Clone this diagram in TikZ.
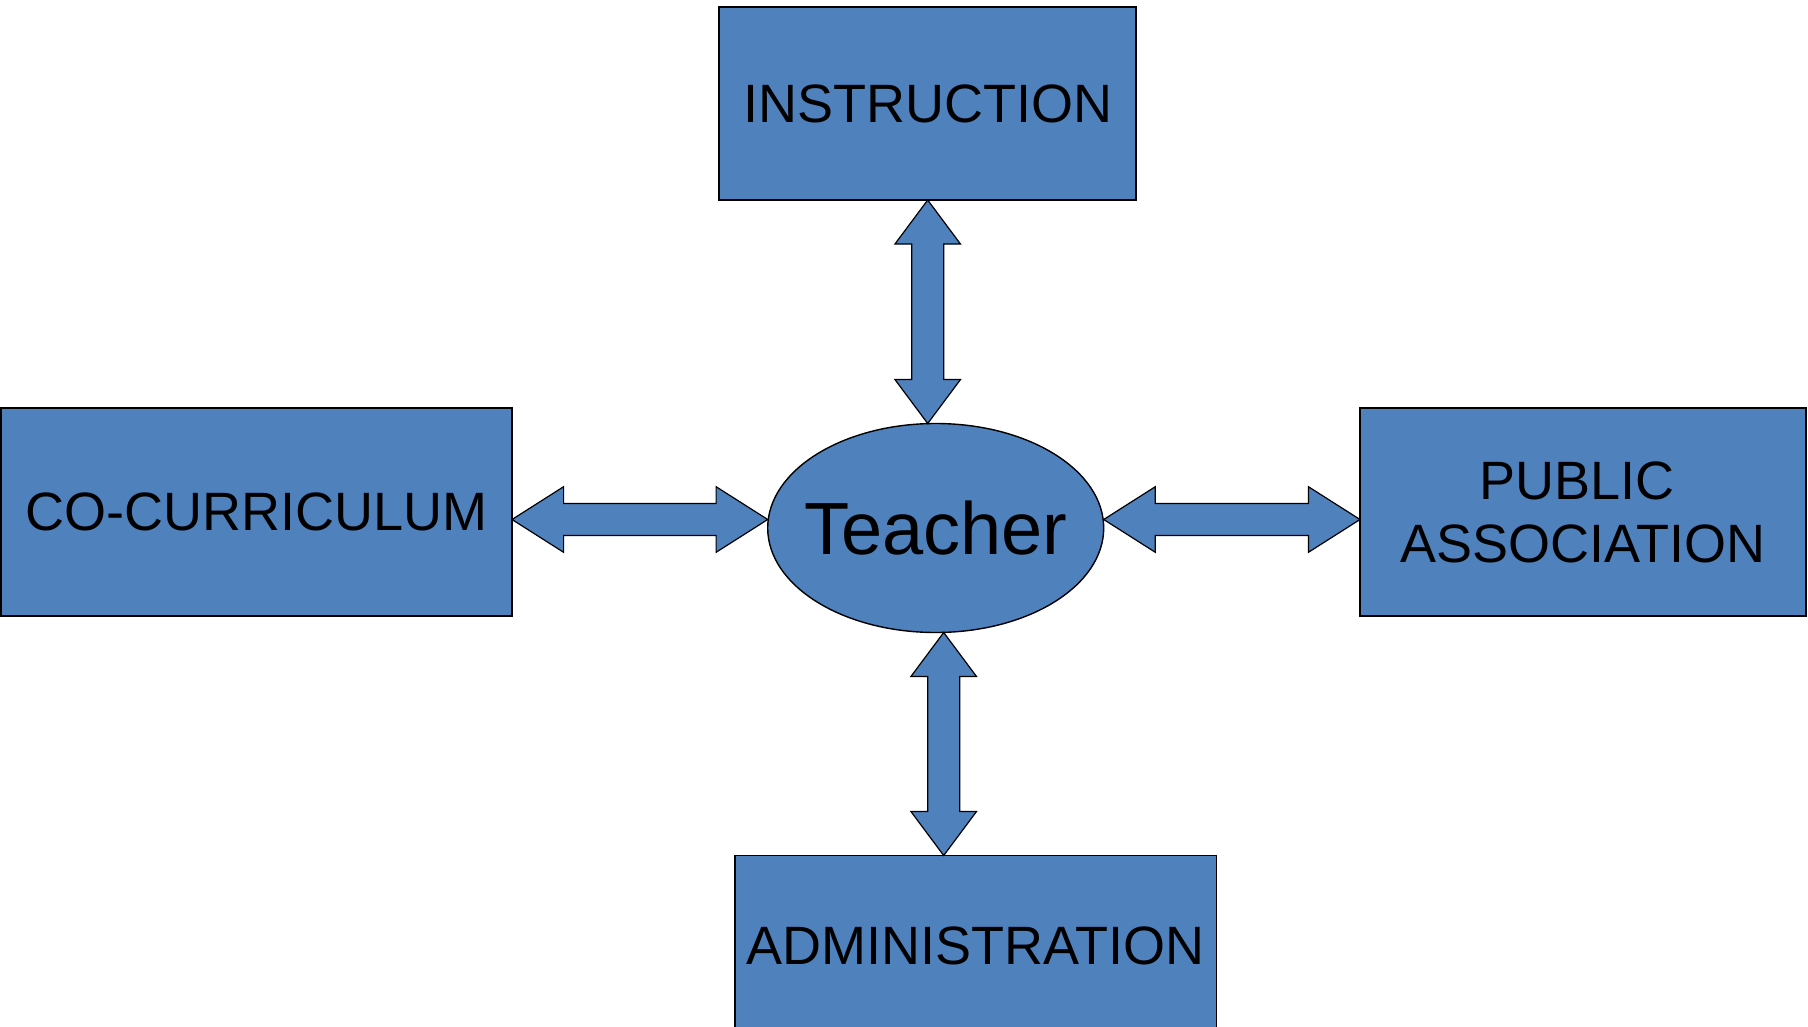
\documentclass[tikz,border=0pt]{standalone}
\usepackage{fontspec}
\setmainfont{Liberation Sans}
\usetikzlibrary{calc,shapes.geometric}
\definecolor{boxblue}{RGB}{79,129,189}
\tikzset{
  boxnode/.style={draw=black, line width=0.9pt, fill=boxblue, rectangle, inner sep=0pt, outer sep=0pt, align=center, font=\fontsize{27}{31.5}\selectfont},
  ellnode/.style={draw=black, line width=0.7pt, fill=boxblue, ellipse, inner sep=0pt, outer sep=0pt, minimum width=168pt, minimum height=104.5pt, font=\fontsize{37}{40}\selectfont},
  darrow/.style={draw=black, line width=0.6pt, fill=boxblue, line join=miter}
}
\newcommand{\vdarrow}[2]{%
  \draw[darrow] let \p1=#1, \p2=#2 in
   (\x1,\y1) -- (\x1+16.4pt,\y1-22pt) -- (\x1+8pt,\y1-22pt) -- (\x1+8pt,\y2+22pt) -- (\x1+16.4pt,\y2+22pt) -- (\x1,\y2)
   -- (\x1-16.4pt,\y2+22pt) -- (\x1-8pt,\y2+22pt) -- (\x1-8pt,\y1-22pt) -- (\x1-16.4pt,\y1-22pt) -- cycle;}
\newcommand{\hdarrow}[2]{%
  \draw[darrow] let \p1=#1, \p2=#2 in
   (\x1,\y1) -- (\x1+25.8pt,\y1+16.4pt) -- (\x1+25.8pt,\y1+8pt) -- (\x2-25.8pt,\y1+8pt) -- (\x2-25.8pt,\y1+16.4pt) -- (\x2,\y1)
   -- (\x2-25.8pt,\y1-16.4pt) -- (\x2-25.8pt,\y1-8pt) -- (\x1+25.8pt,\y1-8pt) -- (\x1+25.8pt,\y1-16.4pt) -- cycle;}
\begin{document}
\begin{tikzpicture}[x=0.5pt,y=-0.5pt]
\useasboundingbox (0,0) rectangle (1808,1027);
\node[boxnode, minimum width=208.35pt, minimum height=96.35pt] (ins) at (927.7,103.7) {INSTRUCTION};
\node[boxnode, minimum width=255.5pt, minimum height=104pt] (cc) at (256.5,512) {CO-CURRICULUM};
\node[boxnode, minimum width=223pt, minimum height=104pt] (pa) at (1583,512) {PUBLIC\hspace*{0.22em}\\ASSOCIATION};
\node[boxnode, minimum width=240.75pt, minimum height=90pt] (adm) at (975.7,945.5) {ADMINISTRATION};
\node[ellnode] (teacher) at (935.7,528) {\makebox[0pt]{Teacher}};
% top arrow
\coordinate (t1) at (ins.south);
\coordinate (t2) at (ins.south |- teacher.north);
\vdarrow{(t1)}{(t2)}
% bottom arrow
\coordinate (b1) at ([xshift=4pt]teacher.south);
\coordinate (b2) at (b1 |- adm.north);
\vdarrow{(b1)}{(b2)}
% left arrow
\coordinate (l1) at ([yshift=-3.75pt]cc.east);
\coordinate (l2) at (teacher.west |- l1);
\hdarrow{(l1)}{(l2)}
% right arrow
\coordinate (r2) at ([yshift=-3.75pt]pa.west);
\coordinate (r1) at (teacher.east |- r2);
\hdarrow{(r1)}{(r2)}
\end{tikzpicture}
\end{document}
